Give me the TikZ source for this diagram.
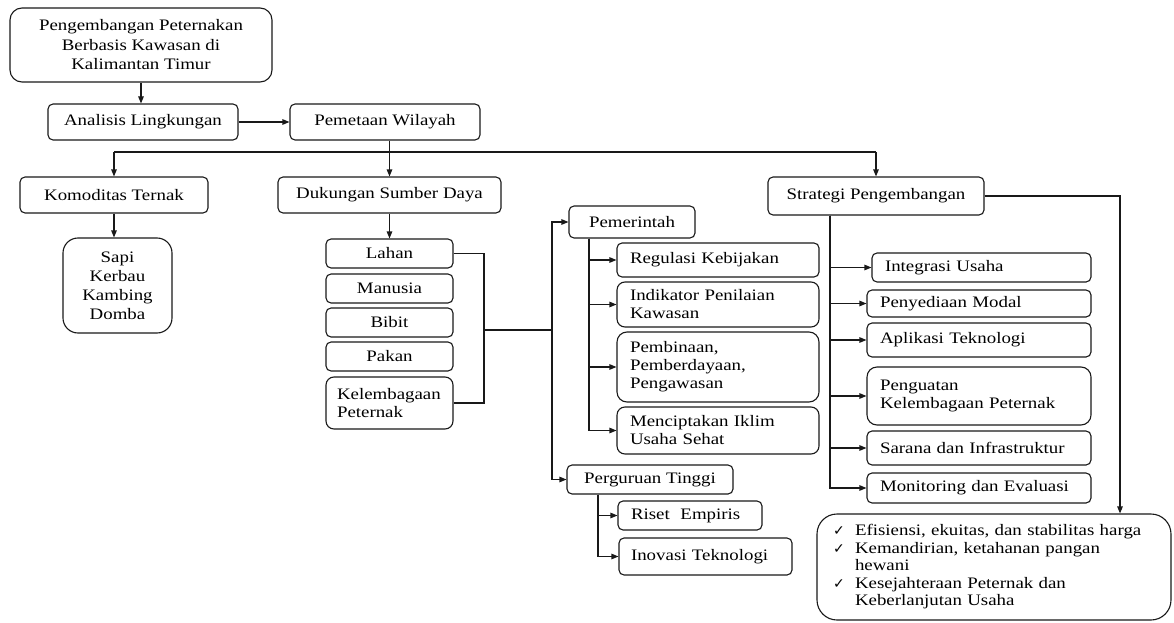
\documentclass[tikz,border=0pt]{standalone}
\usepackage{fontspec}
\setmainfont{Liberation Serif}[FakeStretch=1.18]
\newfontfamily\symfont{DejaVu Sans}
\usetikzlibrary{arrows.meta}
\newcommand\mychk{\makebox[22pt][l]{\symfont\fontsize{14pt}{14pt}\selectfont ✓}}
\tikzset{
  box/.style={draw=black!90, line width=1.1pt, rounded corners=5pt, align=center,
    font=\fontsize{16pt}{18pt}\selectfont, inner sep=0pt, text=black},
  lbox/.style={box, align=left, inner xsep=13pt},
  arr/.style={draw=black!90, line width=1.1pt, -{Triangle[length=7pt,width=5.5pt]}},
  ln/.style={draw=black!90, line width=1.1pt},
}
\begin{document}
\begin{tikzpicture}[x=1pt,y=-1pt]
\useasboundingbox (0,0) rectangle (1174,623);
% top levels
\node[box, minimum width=262pt, minimum height=74pt, rounded corners=12pt,
  font=\fontsize{16pt}{19.5pt}\selectfont] (top) at (141,45)
  {Pengembangan Peternakan\\Berbasis Kawasan di\\Kalimantan Timur};
\node[box, minimum width=190pt, minimum height=36pt] (anal) at (143,122) {Analisis Lingkungan};
\node[box, minimum width=190pt, minimum height=36pt] (pem) at (385,122) {Pemetaan Wilayah};
\node[box, minimum width=188pt, minimum height=36pt] (kom) at (114,195) {Komoditas Ternak};
\node[box, minimum width=223pt, minimum height=36pt] (duk) at (389.5,195) {Dukungan Sumber Daya};
\node[box, minimum width=216pt, minimum height=38pt] (strat) at (876,196) {Strategi Pengembangan};
% komoditas
\node[box, minimum width=109pt, minimum height=95pt, rounded corners=15pt,
  font=\fontsize{16pt}{19pt}\selectfont] (sapi) at (117.5,285.5) {Sapi\\Kerbau\\Kambing\\Domba};
% sumber daya
\node[box, minimum width=127pt, minimum height=29pt] (lahan) at (389.5,253.5) {Lahan};
\node[box, minimum width=127pt, minimum height=29pt] (manusia) at (389.5,288.5) {Manusia};
\node[box, minimum width=127pt, minimum height=29pt] (bibit) at (389.5,322.5) {Bibit};
\node[box, minimum width=127pt, minimum height=29pt] (pakan) at (389.5,356.5) {Pakan};
\node[lbox, text width=105pt, inner xsep=11pt, minimum height=52pt, rounded corners=8pt]
  (kel) at (389.5,403) {Kelembagaan\\Peternak};
% pemerintah
\node[box, minimum width=126pt, minimum height=32pt] (pemr) at (632,222) {Pemerintah};
\node[lbox, text width=176pt, minimum height=34pt] (reg) at (718,260) {Regulasi Kebijakan};
\node[lbox, text width=176pt, minimum height=45pt, rounded corners=8pt] (ind) at (718,304.5)
  {Indikator Penilaian\\Kawasan};
\node[lbox, text width=176pt, minimum height=70pt, rounded corners=10pt] (pemb) at (718,367)
  {Pembinaan,\\Pemberdayaan,\\Pengawasan};
\node[lbox, text width=176pt, minimum height=47pt, rounded corners=8pt] (menc) at (718,430.5)
  {Menciptakan Iklim\\Usaha Sehat};
% perguruan tinggi
\node[box, minimum width=166pt, minimum height=29pt] (pt) at (650,479.5) {Perguruan Tinggi};
\node[lbox, text width=118pt, minimum height=29pt] (riset) at (690,515.5) {Riset~ Empiris};
\node[lbox, text width=149pt, inner xsep=12pt, minimum height=37pt] (inov) at (705.5,556.5)
  {Inovasi Teknologi};
% strategi
\node[lbox, text width=193pt, minimum height=29pt] (integ) at (981.5,267.5) {Integrasi Usaha};
\node[lbox, text width=198pt, minimum height=27pt] (peny) at (979,303.5) {Penyediaan Modal};
\node[lbox, text width=198pt, minimum height=34pt] (apl) at (979,340) {Aplikasi Teknologi};
\node[lbox, text width=198pt, minimum height=58pt, rounded corners=10pt] (peng) at (979,396)
  {Penguatan\\Kelembagaan Peternak};
\node[lbox, text width=198pt, minimum height=34pt] (sar) at (979,448) {Sarana dan Infrastruktur};
\node[lbox, text width=198pt, minimum height=30pt] (mon) at (979,488) {Monitoring dan Evaluasi};
\node[lbox, text width=322pt, inner xsep=16pt, minimum height=106pt, rounded corners=20pt,
  font=\fontsize{16pt}{17.5pt}\selectfont] (out) at (994,567)
  {\mychk Efisiensi, ekuitas, dan stabilitas harga\\
   \mychk Kemandirian, ketahanan pangan\\
   \hspace*{22pt}hewani\\
   \mychk Kesejahteraan Peternak dan\\
   \hspace*{22pt}Keberlanjutan Usaha};
% connectors
\coordinate (bus) at (0,152);
\draw[arr] (top.south) -- (top.south |- anal.north);
\draw[arr] (anal.east) -- (pem.west);
\draw[arr] (pem.south -| duk.north) -- (duk.north);
\draw[ln] (kom.north |- bus) -- (strat.north |- bus);
\draw[arr] (kom.north |- bus) -- (kom.north);
\draw[arr] (strat.north |- bus) -- (strat.north);
\draw[arr] (kom.south) -- (kom.south |- sapi.north);
\draw[arr] (duk.south) -- (lahan.north);
\coordinate (jb) at (484,330);
\coordinate (jv) at (552,330);
\draw[ln] (lahan.east) -| (jb) |- (kel.east);
\draw[ln] (jb) -- (jv);
\draw[arr] (jv) |- (pemr.west);
\draw[arr] (jv) |- (pt.west);
\coordinate (ps) at ([xshift=-43pt]pemr.south);
\draw[arr] (ps) |- (reg.west);
\draw[arr] (ps) |- (ind.west);
\draw[arr] (ps) |- (pemb.west);
\draw[arr] (ps) |- (menc.west);
\coordinate (ts) at ([xshift=-52pt]pt.south);
\draw[arr] (ts) |- (riset.west);
\draw[arr] (ts) |- (inov.west);
\coordinate (ss) at ([xshift=-46pt]strat.south);
\draw[arr] (ss) |- (integ.west);
\draw[arr] (ss) |- (peny.west);
\draw[arr] (ss) |- (apl.west);
\draw[arr] (ss) |- (peng.west);
\draw[arr] (ss) |- (sar.west);
\draw[arr] (ss) |- (mon.west);
\coordinate (oc) at (1120,196);
\draw[arr] (strat.east) -- (oc) -- (oc |- out.north);
\end{tikzpicture}
\end{document}
